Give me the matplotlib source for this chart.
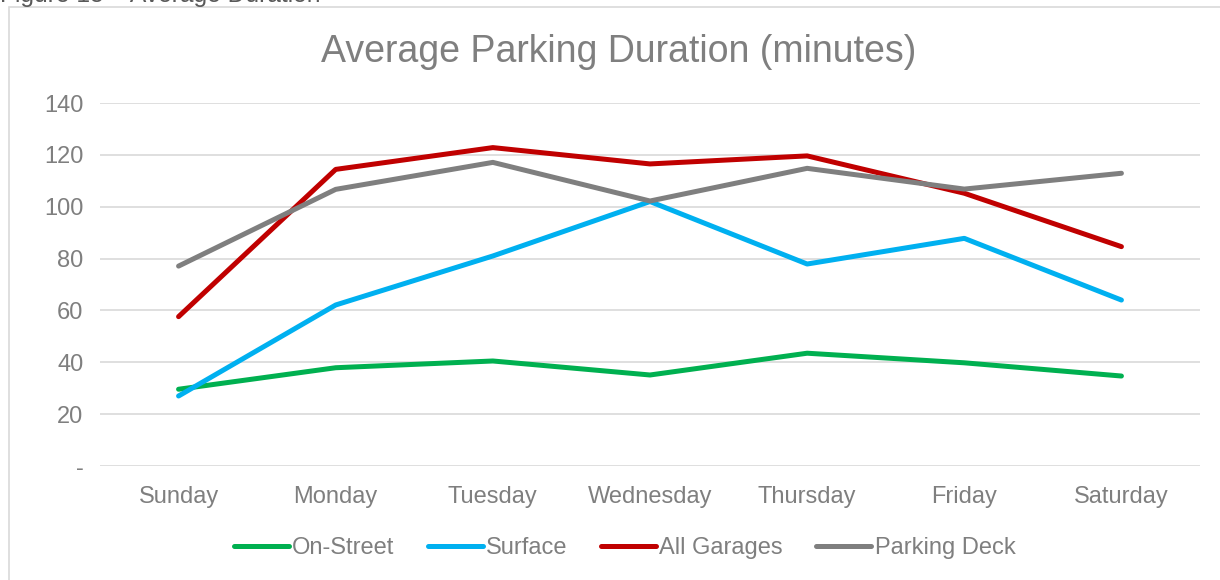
import matplotlib
matplotlib.use("Agg")
import matplotlib.pyplot as plt
from matplotlib.patches import Rectangle

days = ["Sunday", "Monday", "Tuesday", "Wednesday", "Thursday", "Friday", "Saturday"]
on_street = [29.6, 37.9, 40.5, 35.1, 43.5, 39.8, 34.7]
surface = [27.0, 62.1, 81.0, 102.0, 77.9, 87.8, 64.0]
all_garages = [57.6, 114.4, 122.8, 116.5, 119.6, 105.2, 84.6]
parking_deck = [77.1, 106.7, 117.1, 102.2, 114.8, 106.8, 112.9]
yticks = [0, 20, 40, 60, 80, 100, 120, 140]
ytick_labels = ["-", "20", "40", "60", "80", "100", "120", "140"]

series = [
    ("On-Street", on_street, "#00b050"),
    ("Surface", surface, "#00b0f0"),
    ("All Garages", all_garages, "#c00000"),
    ("Parking Deck", parking_deck, "#7f7f7f"),
]

plt.rcParams["font.family"] = ["Liberation Sans", "DejaVu Sans"]
W, H = 1220, 580
fig = plt.figure(figsize=(W / 100, H / 100), dpi=100)

# chart border
fig.patches.append(Rectangle((9 / W, -0.1), 1.2, (H - 7) / H + 0.1, transform=fig.transFigure,
                             fill=False, edgecolor="#d9d9d9", linewidth=1.2))

ax = fig.add_axes([100 / W, (H - 466) / H, 1100 / W, 363 / H])
x = list(range(len(days)))
lines = []
for name, vals, col in series:
    ln, = ax.plot(x, vals, color=col, linewidth=3.6, solid_capstyle="round",
                  solid_joinstyle="round", label=name)
    lines.append(ln)

ax.set_xlim(-0.5, len(days) - 0.5)
ax.set_ylim(0, 140)
ax.set_yticks(yticks)
ax.set_yticklabels(ytick_labels)
ax.set_xticks(x)
ax.set_xticklabels(days)
ax.grid(axis="y", color="#d9d9d9", linewidth=1.2)
ax.set_axisbelow(True)
for s in ax.spines.values():
    s.set_visible(False)
ax.tick_params(axis="both", length=0, labelsize=17, labelcolor="#7f7f7f")
ax.tick_params(axis="x", pad=14.5)
ax.tick_params(axis="y", pad=12)

fig.text(618.5 / W, 1 - 52 / H, "Average Parking Duration (minutes)", ha="center", va="center",
         fontsize=27, color="#7f7f7f")
fig.text(0 / W, 1 - 2 / H, "Figure 15 \u2013 Average Duration", ha="left", va="baseline",
         fontsize=17.7, color="#595959")

fig.legend(handles=lines, loc="center", bbox_to_anchor=(624.5 / W, 1 - 548 / H), ncol=4,
           frameon=False, fontsize=17, handlelength=2.33, handletextpad=0.15,
           columnspacing=1.4, labelcolor="#7f7f7f")

fig.savefig("out.png", dpi=100)
